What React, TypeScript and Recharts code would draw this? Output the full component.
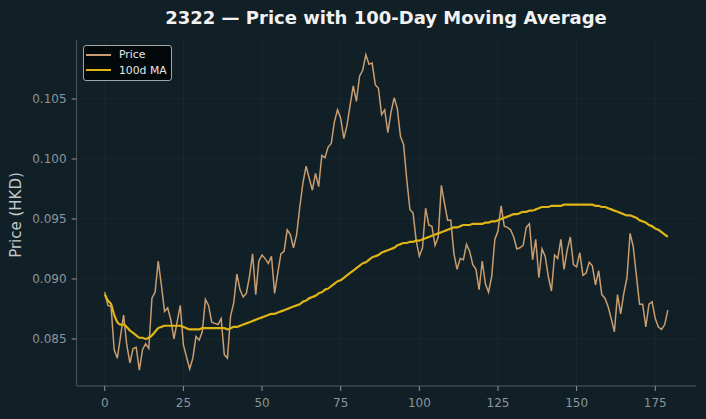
import { CartesianGrid, Line, LineChart, XAxis, YAxis } from "recharts";

const price = [
  0.0889, 0.0878, 0.0877, 0.0841, 0.0834, 0.0852, 0.087, 0.0845, 0.083, 0.0842,
  0.0843, 0.0824, 0.0841, 0.0846, 0.0842, 0.0884, 0.0889, 0.0915, 0.0895, 0.0873,
  0.0876, 0.0866, 0.085, 0.0864, 0.0878, 0.0845, 0.0835, 0.0825, 0.0834, 0.0852,
  0.0849, 0.0856, 0.0883, 0.0878, 0.0864, 0.0863, 0.0862, 0.0867, 0.0837, 0.0834,
  0.0869, 0.088, 0.0904, 0.0891, 0.0885, 0.0888, 0.0902, 0.0921, 0.0887, 0.0915,
  0.092, 0.0917, 0.0913, 0.0919, 0.0888, 0.0905, 0.0921, 0.0923, 0.0941, 0.0937,
  0.0926, 0.0937, 0.096, 0.098, 0.0994, 0.0984, 0.0974, 0.0988, 0.0977, 0.1003,
  0.1001, 0.101, 0.1013, 0.1031, 0.1041, 0.1034, 0.1017, 0.1028, 0.1045, 0.1061,
  0.1048, 0.1069, 0.1074, 0.1087, 0.1079, 0.108, 0.1062, 0.1059, 0.1037, 0.1041,
  0.1022, 0.1039, 0.1051, 0.1042, 0.1019, 0.1012, 0.0983, 0.0958, 0.0955, 0.0932,
  0.0919, 0.0926, 0.0959, 0.0945, 0.0944, 0.0928, 0.0935, 0.0978, 0.0963, 0.0949,
  0.0949, 0.0921, 0.0908, 0.0917, 0.0916, 0.0929, 0.0923, 0.0912, 0.0908, 0.0891,
  0.0915, 0.0896, 0.0889, 0.0902, 0.0933, 0.094, 0.0961, 0.0944, 0.0943, 0.0941,
  0.0935, 0.0925, 0.0926, 0.0928, 0.0943, 0.0946, 0.0916, 0.0933, 0.0901, 0.0925,
  0.0919, 0.0902, 0.089, 0.092, 0.0917, 0.0933, 0.0908, 0.0924, 0.0935, 0.0912,
  0.091, 0.0922, 0.0903, 0.0905, 0.0914, 0.0911, 0.0895, 0.0907, 0.0887, 0.0884,
  0.0877, 0.0867, 0.0856, 0.0887, 0.0871, 0.0888, 0.0901, 0.0938, 0.0927, 0.0903,
  0.0879, 0.0879, 0.086, 0.0879, 0.0881, 0.0867, 0.086, 0.0858, 0.0862, 0.0874,
];

const movingAvg = [
  0.0887, 0.0882, 0.0879, 0.087, 0.0864, 0.0862, 0.0862, 0.086, 0.0857, 0.0855,
  0.0853, 0.0851, 0.0851, 0.085, 0.0851, 0.0853, 0.0856, 0.0859, 0.086, 0.0861,
  0.0861, 0.0861, 0.0861, 0.0861, 0.0861, 0.086, 0.0859, 0.0858, 0.0858, 0.0858,
  0.0858, 0.0859, 0.0859, 0.0859, 0.0859, 0.0859, 0.0859, 0.0859, 0.0859, 0.0858,
  0.0859, 0.086, 0.086, 0.0861, 0.0862, 0.0863, 0.0864, 0.0865, 0.0866, 0.0867,
  0.0868, 0.0869, 0.087, 0.0871, 0.0871, 0.0872, 0.0873, 0.0874, 0.0875, 0.0876,
  0.0877, 0.0878, 0.0879, 0.0881, 0.0882, 0.0884, 0.0885, 0.0886, 0.0888, 0.0889,
  0.0891, 0.0892, 0.0894, 0.0896, 0.0898, 0.0899, 0.0901, 0.0903, 0.0905, 0.0907,
  0.0909, 0.0911, 0.0913, 0.0914, 0.0916, 0.0918, 0.0919, 0.092, 0.0922, 0.0923,
  0.0924, 0.0925, 0.0926, 0.0928, 0.0929, 0.093, 0.093, 0.0931, 0.0931, 0.0932,
  0.0932, 0.0933, 0.0934, 0.0935, 0.0936, 0.0937, 0.0938, 0.0939, 0.094, 0.0941,
  0.0942, 0.0943, 0.0943, 0.0944, 0.0945, 0.0945, 0.0945, 0.0946, 0.0946, 0.0946,
  0.0946, 0.0947, 0.0947, 0.0948, 0.0948, 0.0949, 0.095, 0.0951, 0.0952, 0.0953,
  0.0954, 0.0954, 0.0955, 0.0956, 0.0956, 0.0957, 0.0957, 0.0958, 0.0959, 0.096,
  0.096, 0.096, 0.0961, 0.0961, 0.0961, 0.0961, 0.0962, 0.0962, 0.0962, 0.0962,
  0.0962, 0.0962, 0.0962, 0.0962, 0.0962, 0.0962, 0.0961, 0.0961, 0.096, 0.096,
  0.0959, 0.0958, 0.0957, 0.0956, 0.0955, 0.0954, 0.0953, 0.0953, 0.0952, 0.0951,
  0.0949, 0.0948, 0.0947, 0.0945, 0.0944, 0.0942, 0.0941, 0.0939, 0.0937, 0.0935,
];

const xTicks = [0, 25, 50, 75, 100, 125, 150, 175];
const yTicks = [0.085, 0.09, 0.095, 0.1, 0.105];

const data = price.map((p, i) => ({ day: i, price: p, ma: movingAvg[i] }));

const BG = "#111f26";
const TICK = "#8b969b";
const FONT = "'DejaVu Sans', sans-serif";
const PRICE_COLOR = "#c99d70";
const MA_COLOR = "#e0b516";

function LegendBox() {
  const rows = [
    { label: "Price", color: PRICE_COLOR, w: 1.5 },
    { label: "100d MA", color: MA_COLOR, w: 2 },
  ];
  return (
    <div
      style={{
        position: "absolute",
        left: 83,
        top: 45,
        width: 89,
        height: 36,
        boxSizing: "border-box",
        background: "#03090b",
        border: "1px solid #a0a6a8",
        borderRadius: 3,
        padding: "1px 0 0 2px",
        fontFamily: FONT,
        fontSize: 10.8,
        color: "#e6e6e6",
        lineHeight: "15.6px",
      }}
    >
      {rows.map((r) => (
        <div key={r.label} style={{ display: "flex", alignItems: "center" }}>
          <span style={{ display: "inline-block", width: 25, height: r.w, background: r.color, marginRight: 8 }} />
          {r.label}
        </div>
      ))}
    </div>
  );
}

export default function App() {
  return (
    <div style={{ position: "absolute", left: 0, top: 0, width: 706, height: 419, background: BG }}>
      <div
        style={{
          position: "absolute",
          top: 6,
          left: 0,
          width: 772,
          textAlign: "center",
          fontFamily: FONT,
          fontWeight: "bold",
          fontSize: 18,
          lineHeight: "24px",
          color: "#f2f2f2",
        }}
      >
        2322 — Price with 100-Day Moving Average
      </div>
      <div
        style={{
          position: "absolute",
          left: 16,
          top: 215,
          transform: "translate(-50%, -50%) rotate(-90deg)",
          fontFamily: FONT,
          fontSize: 15,
          color: "#c3c8ca",
          whiteSpace: "nowrap",
        }}
      >
        Price (HKD)
      </div>
      <LineChart width={706} height={419} data={data} margin={{ top: 40, right: 10, bottom: 3, left: 0 }}>
        <CartesianGrid stroke="#1a2b32" strokeWidth={0.8} />
        <XAxis
          dataKey="day"
          type="number"
          domain={[-8.95, 187.95]}
          ticks={xTicks}
          height={30}
          allowDataOverflow
          stroke="#4d575b"
          tickLine={{ stroke: "#8b969b" }}
          tickSize={5}
          tickMargin={7}
          tick={{ fill: TICK, fontSize: 12, fontFamily: FONT }}
        />
        <YAxis
          type="number"
          domain={[0.08108, 0.10992]}
          ticks={yTicks}
          width={76.6}
          allowDataOverflow
          stroke="#4d575b"
          tickLine={{ stroke: "#8b969b" }}
          tickSize={5}
          tickMargin={5}
          tickFormatter={(v: number) => v.toFixed(3)}
          tick={{ fill: TICK, fontSize: 12, fontFamily: FONT }}
        />
        <Line
          dataKey="price"
          name="Price"
          type="linear"
          stroke={PRICE_COLOR}
          strokeWidth={1.5}
          dot={false}
          isAnimationActive={false}
        />
        <Line
          dataKey="ma"
          name="100d MA"
          type="monotone"
          stroke={MA_COLOR}
          strokeWidth={2.2}
          dot={false}
          isAnimationActive={false}
        />
      </LineChart>
      <LegendBox />
    </div>
  );
}
